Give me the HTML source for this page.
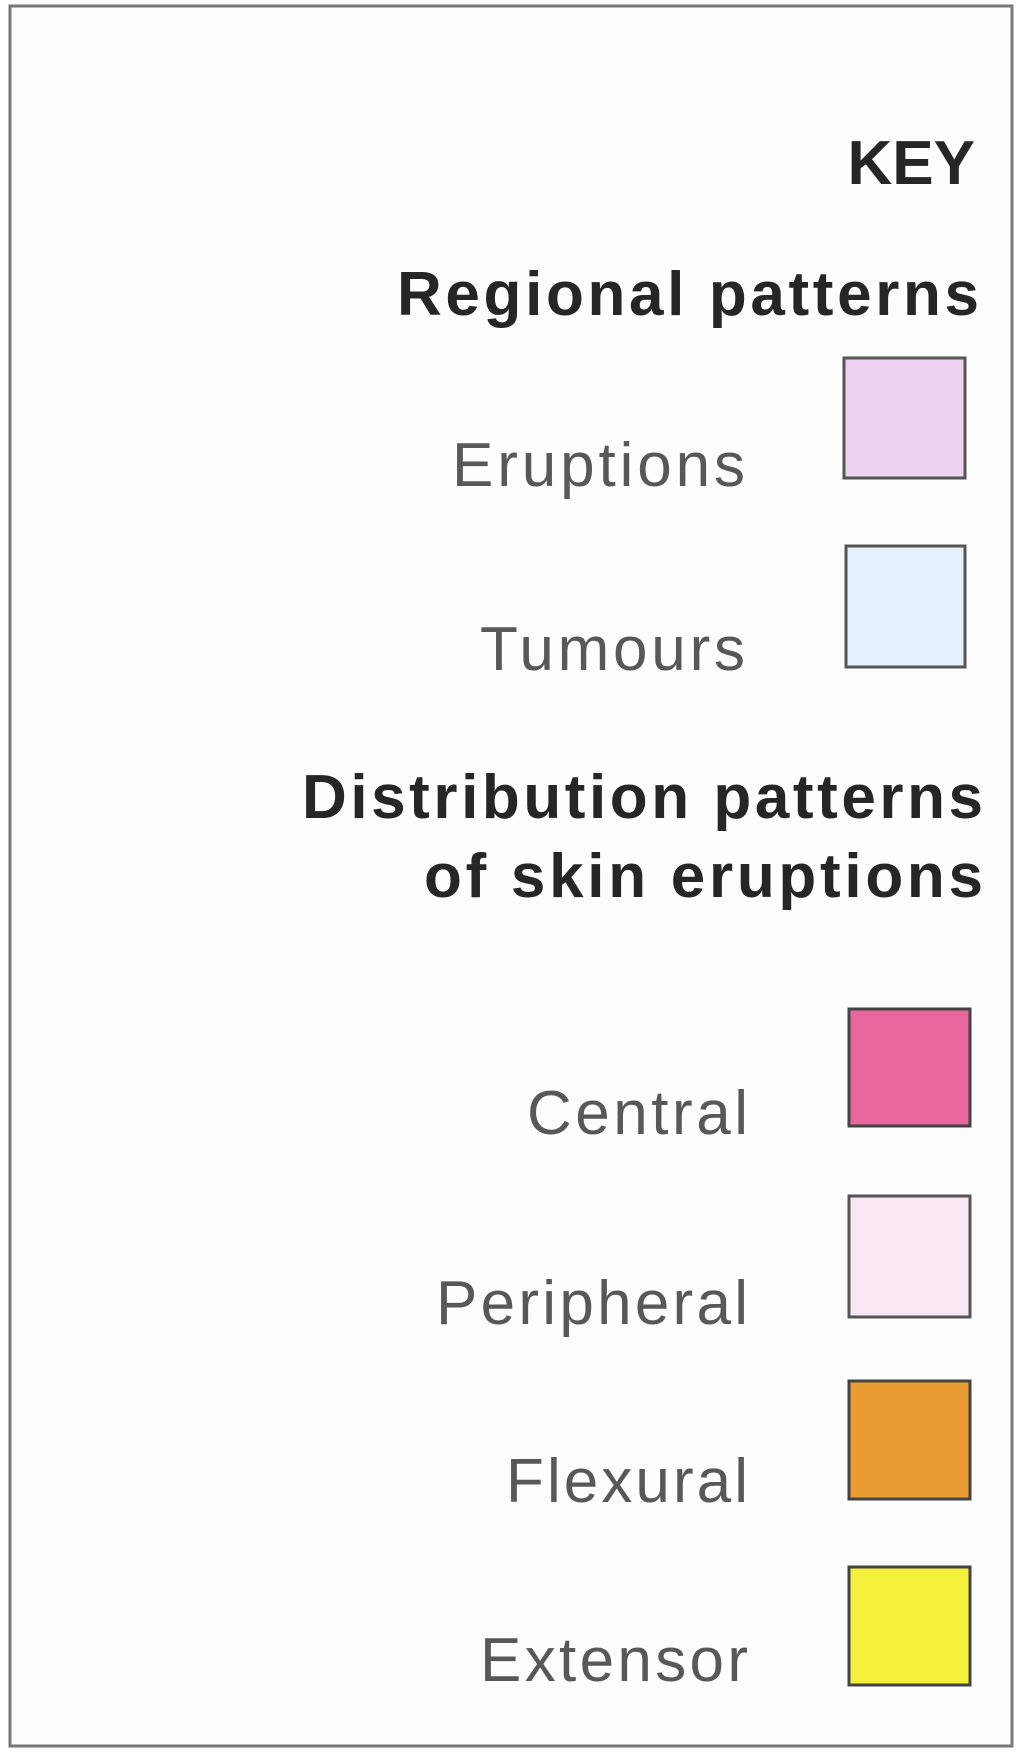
<!DOCTYPE html>
<html><head><meta charset="utf-8"><style>
html,body{margin:0;padding:0;background:#fff;}
svg{display:block;}
text{font-family:"Liberation Sans",Arial,sans-serif;}
.h{font-weight:bold;fill:#262626;font-size:62px;}
.l{fill:#585858;font-size:62px;}
</style></head><body>
<svg width="1024" height="1757" viewBox="0 0 1024 1757">
<rect x="10" y="6" width="1002" height="1740" fill="#fdfdfe" stroke="#777" stroke-width="3"/>
<text class="h" x="975" y="184" text-anchor="end">KEY</text>
<text class="h" x="397" y="315" textLength="582" lengthAdjust="spacing">Regional patterns</text>
<text class="l" x="452" y="486" textLength="293" lengthAdjust="spacing">Eruptions</text>
<rect x="844" y="358" width="121" height="120" fill="#ecd2ee" stroke="#555" stroke-width="3"/>
<text class="l" x="480" y="670" textLength="265" lengthAdjust="spacing">Tumours</text>
<rect x="846" y="546" width="119" height="121" fill="#e4f1fb" stroke="#555" stroke-width="3"/>
<text class="h" x="302" y="818" textLength="681" lengthAdjust="spacing">Distribution patterns</text>
<text class="h" x="424" y="897" textLength="559" lengthAdjust="spacing">of skin eruptions</text>
<text class="l" x="527" y="1134" textLength="221" lengthAdjust="spacing">Central</text>
<rect x="849" y="1009" width="121" height="117" fill="#e8689e" stroke="#444" stroke-width="3"/>
<text class="l" x="436" y="1324" textLength="312" lengthAdjust="spacing">Peripheral</text>
<rect x="849" y="1196" width="121" height="121" fill="#f8e8f3" stroke="#555" stroke-width="3"/>
<text class="l" x="506" y="1502" textLength="242" lengthAdjust="spacing">Flexural</text>
<rect x="849" y="1381" width="121" height="118" fill="#ea9b31" stroke="#444" stroke-width="3"/>
<text class="l" x="480" y="1681" textLength="268" lengthAdjust="spacing">Extensor</text>
<rect x="849" y="1567" width="121" height="118" fill="#f5f03c" stroke="#444" stroke-width="3"/>
</svg>
</body></html>
